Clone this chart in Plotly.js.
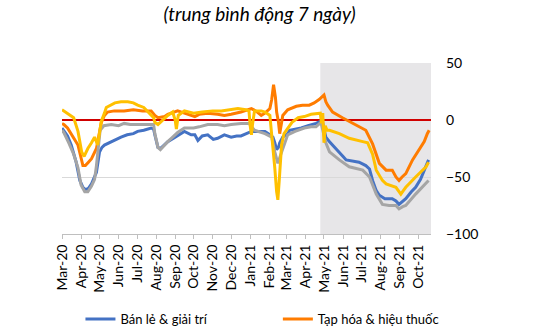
<!DOCTYPE html>
<html>
<head>
<meta charset="utf-8">
<script src="https://cdn.plot.ly/plotly-3.0.1.min.js"></script>
<style>html,body{margin:0;padding:0;background:#fff;}#chart{width:542px;height:330px;}</style>
</head>
<body>
<div id="chart"></div>
<script>
// Bán lẻ & giải trí (blue)
const retailDates = ["2020-03-01","2020-03-04","2020-03-10","2020-03-16","2020-03-24","2020-03-30","2020-04-04","2020-04-08","2020-04-13","2020-04-18","2020-04-23","2020-04-26","2020-05-01","2020-05-05","2020-05-09","2020-05-20","2020-06-05","2020-06-15","2020-06-25","2020-07-02","2020-07-12","2020-07-24","2020-07-28","2020-07-30","2020-08-04","2020-08-08","2020-08-14","2020-08-20","2020-09-01","2020-09-16","2020-09-27","2020-10-03","2020-10-08","2020-10-15","2020-10-24","2020-11-02","2020-11-09","2020-11-20","2020-12-01","2020-12-10","2020-12-17","2020-12-25","2021-01-03","2021-01-15","2021-01-25","2021-02-02","2021-02-07","2021-02-10","2021-02-13","2021-02-16","2021-02-18","2021-02-23","2021-03-03","2021-03-06","2021-03-15","2021-03-25","2021-04-05","2021-04-18","2021-04-26","2021-04-28","2021-05-01","2021-05-04","2021-05-10","2021-05-21","2021-06-01","2021-06-06","2021-06-15","2021-06-27","2021-07-08","2021-07-14","2021-07-19","2021-07-25","2021-07-30","2021-08-08","2021-08-20","2021-08-26","2021-08-31","2021-09-05","2021-09-11","2021-09-20","2021-09-27","2021-10-05","2021-10-14","2021-10-18"];
const retailVals = [-7,-9,-14,-22,-37,-53,-59,-61,-60,-56,-50,-46,-28,-24,-22,-19,-15,-13,-12,-10,-9,-7,-8,-13,-24,-25,-22,-19,-15,-10,-13,-13,-18,-14,-13,-17,-16,-13,-15,-14,-14,-12,-10,-10,-10,-13,-15,-20,-26,-24,-20,-15,-12,-9,-8,-7,-5,-3,-1,0,-8,-15,-19,-26,-32,-35,-36,-37,-40,-43,-53,-62,-66,-69,-69,-71,-74,-72,-69,-63,-59,-52,-40,-35];

// Tạp hóa & hiệu thuốc (orange)
const groceryDates = ["2020-03-01","2020-03-04","2020-03-10","2020-03-16","2020-03-27","2020-04-04","2020-04-08","2020-04-13","2020-04-18","2020-04-26","2020-05-01","2020-05-04","2020-05-09","2020-05-14","2020-05-25","2020-06-10","2020-06-25","2020-07-10","2020-07-24","2020-07-30","2020-08-04","2020-08-15","2020-08-20","2020-09-05","2020-09-16","2020-09-27","2020-10-03","2020-10-10","2020-10-24","2020-11-09","2020-11-20","2020-12-01","2020-12-17","2021-01-03","2021-01-10","2021-01-19","2021-01-25","2021-02-02","2021-02-05","2021-02-08","2021-02-11","2021-02-13","2021-02-16","2021-02-18","2021-02-21","2021-02-23","2021-03-03","2021-03-17","2021-03-27","2021-04-07","2021-04-15","2021-04-23","2021-05-01","2021-05-04","2021-05-07","2021-05-15","2021-05-31","2021-06-17","2021-07-08","2021-07-19","2021-07-30","2021-08-10","2021-08-20","2021-08-26","2021-08-31","2021-09-05","2021-09-11","2021-09-22","2021-10-03","2021-10-11","2021-10-16","2021-10-19"];
const groceryVals = [-3,-4,-7,-12,-22,-40,-40,-37,-34,-25,-10,-2,4,7,8,8,9,8,8,4,2,3,5,8,6,4,3,5,6,5,4,5,7,10,8,4,6,10,18,31,20,7,-2,-12,0,4,9,12,13,13,15,18,22,16,13,7,2,-3,-9,-21,-38,-44,-44,-50,-53,-50,-47,-35,-26,-19,-12,-9];

// Trạm giao thông công cộng (gray)
const transitDates = ["2020-03-01","2020-03-04","2020-03-12","2020-03-20","2020-03-27","2020-04-01","2020-04-07","2020-04-12","2020-04-18","2020-04-23","2020-04-26","2020-04-30","2020-05-02","2020-05-08","2020-05-20","2020-06-01","2020-06-10","2020-06-20","2020-07-01","2020-07-15","2020-07-28","2020-07-30","2020-08-04","2020-08-08","2020-08-14","2020-08-20","2020-08-28","2020-09-05","2020-09-16","2020-10-01","2020-10-10","2020-10-24","2020-11-09","2020-11-20","2020-12-01","2020-12-17","2020-12-30","2021-01-08","2021-01-25","2021-02-05","2021-02-10","2021-02-15","2021-02-18","2021-02-21","2021-03-03","2021-03-15","2021-03-30","2021-04-10","2021-04-18","2021-04-26","2021-05-04","2021-05-10","2021-05-26","2021-06-11","2021-07-03","2021-07-14","2021-07-25","2021-08-04","2021-08-15","2021-08-26","2021-08-31","2021-09-06","2021-09-11","2021-09-27","2021-10-14","2021-10-18"];
const transitVals = [-9,-11,-20,-30,-42,-57,-63,-63,-58,-52,-40,-20,-9,-5,-4,-5,-3,-4,-4,-4,-4,-12,-24,-26,-22,-19,-15,-11,-7,-7,-6,-4,-4,-5,-4,-3,-3,-9,-12,-15,-28,-38,-33,-28,-13,-10,-7,-6,-6,-2,-20,-28,-35,-41,-44,-50,-65,-74,-75,-75,-78,-76,-75,-65,-56,-53];

// Nơi làm việc (yellow)
const workDates = ["2020-03-01","2020-03-04","2020-03-10","2020-03-20","2020-03-27","2020-04-02","2020-04-06","2020-04-12","2020-04-18","2020-04-23","2020-04-28","2020-05-01","2020-05-04","2020-05-09","2020-05-12","2020-05-26","2020-06-05","2020-06-16","2020-06-25","2020-07-02","2020-07-12","2020-07-19","2020-07-28","2020-07-30","2020-08-04","2020-08-10","2020-08-20","2020-08-28","2020-09-01","2020-09-03","2020-09-06","2020-09-16","2020-10-01","2020-10-15","2020-11-01","2020-11-15","2020-12-01","2020-12-12","2020-12-25","2020-12-30","2021-01-01","2021-01-03","2021-01-05","2021-01-08","2021-01-19","2021-01-25","2021-02-02","2021-02-05","2021-02-08","2021-02-10","2021-02-13","2021-02-15","2021-02-17","2021-02-19","2021-02-21","2021-02-25","2021-03-03","2021-03-10","2021-03-20","2021-03-30","2021-04-10","2021-04-20","2021-04-25","2021-04-27","2021-04-29","2021-05-01","2021-05-03","2021-05-06","2021-05-10","2021-05-26","2021-06-11","2021-07-03","2021-07-11","2021-07-19","2021-07-25","2021-08-04","2021-08-10","2021-08-26","2021-09-03","2021-09-07","2021-09-11","2021-09-27","2021-10-14","2021-10-18"];
const workVals = [9,8,6,2,-10,-28,-32,-25,-20,-15,-22,-12,-1,6,11,15,16,16,15,13,11,7,2,-2,-4,-1,4,7,0,-8,4,8,6,7,8,8,9,10,9,8,-5,-13,-3,8,8,7,4,-13,-25,-42,-63,-70,-55,-35,-22,-12,-7,-2,2,3,5,6,6,-3,6,-20,-5,-9,-9,-12,-16,-19,-20,-30,-44,-53,-56,-59,-65,-62,-59,-50,-41,-37];

const seriesNames = ["Bán lẻ & giải trí","Tạp hóa & hiệu thuốc","Trạm giao thông công cộng","Nơi làm việc"];
const seriesColors = ["#4472C4","#FF7C00","#A5A5A5","#FFC000"];
const seriesLegends = ["legend","legend2",null,null];
const yTicks = [50, 0, -50, -100];
const xRange = ["2020-03-01","2021-10-22"];
const shadeRange = ["2021-04-25","2021-10-22"];
const chartTitle = "(trung bình động 7 ngày)";

const xs = [retailDates, groceryDates, transitDates, workDates];
const ys = [retailVals, groceryVals, transitVals, workVals];
const traces = xs.map((x, i) => {
  const t = {
    type: "scatter", mode: "lines", x: x, y: ys[i], name: seriesNames[i],
    line: {color: seriesColors[i], width: 3},
    showlegend: seriesLegends[i] !== null
  };
  if (seriesLegends[i]) t.legend = seriesLegends[i];
  return t;
});

const legendBase = {orientation: "h", y: -0.41, yanchor: "top", xanchor: "left",
  font: {family: "Lato, sans-serif", size: 13, color: "#000"}, bgcolor: "rgba(0,0,0,0)"};

const layout = {
  width: 542, height: 330,
  margin: {l: 62, r: 111, t: 63, b: 96, autoexpand: false},
  paper_bgcolor: "#fff", plot_bgcolor: "#fff",
  font: {family: "Lato, 'Open Sans', sans-serif", size: 14, color: "#000"},
  title: {text: "<i>" + chartTitle + "</i>", x: 0.479, xref: "container", xanchor: "center",
          y: 0.957, yref: "container", yanchor: "middle",
          font: {family: "Lato, sans-serif", size: 19, color: "#000"}},
  xaxis: {type: "date", range: xRange, tick0: "2020-03-01", dtick: "M1", tickformat: "%b-%y",
          tickangle: -90, ticks: "outside", ticklen: 4, tickcolor: "#BFBFBF",
          showline: true, linecolor: "#BFBFBF", linewidth: 1, showgrid: false, zeroline: false,
          tickfont: {size: 14, color: "#000"}, fixedrange: true},
  yaxis: {side: "right", range: [-100, 50], tickvals: yTicks, ticks: "", ticklabelstandoff: 14,
          showgrid: true, gridcolor: "#D9D9D9", gridwidth: 1,
          zeroline: true, zerolinecolor: "#D00000", zerolinewidth: 1.5,
          showline: false, tickfont: {size: 14, color: "#000"}, fixedrange: true},
  shapes: [{type: "rect", xref: "x", yref: "paper", x0: shadeRange[0], x1: shadeRange[1], y0: 0, y1: 1,
            fillcolor: "#E7E6E8", line: {width: 0}, layer: "below"}],
  legend: Object.assign({}, legendBase, {x: 0.05}),
  legend2: Object.assign({}, legendBase, {x: 0.585}),
  showlegend: true
};

Plotly.newPlot("chart", traces, layout, {displayModeBar: false, staticPlot: true});
</script>
</body>
</html>
